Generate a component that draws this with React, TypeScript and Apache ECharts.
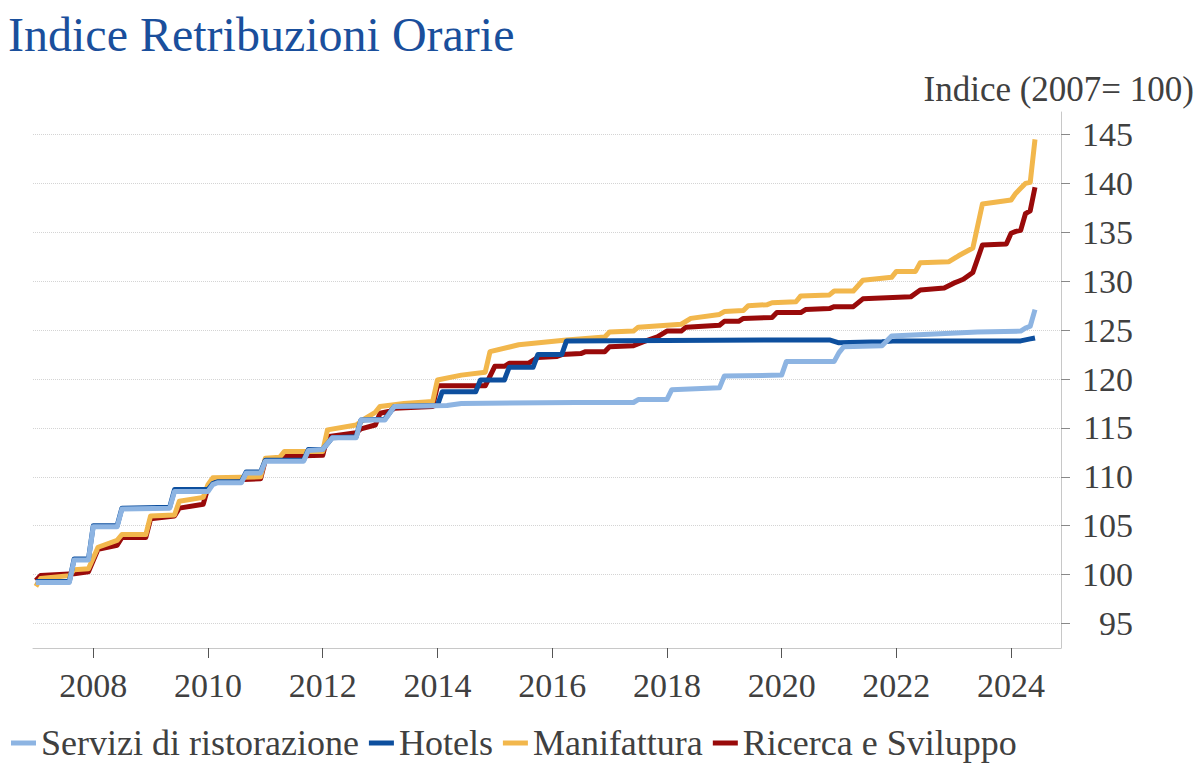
import React, { useEffect, useRef } from "react";
import * as echarts from "echarts";

const titleText = "Indice Retribuzioni Orarie";
const unitText = "Indice (2007= 100)";

const seriesNames = ["Servizi di ristorazione", "Hotels", "Manifattura", "Ricerca e Sviluppo"];
const seriesColors = ["#8db4e2", "#0d4f9e", "#f2b74c", "#990a0a"];

const xTickYears = [2008, 2010, 2012, 2014, 2016, 2018, 2020, 2022, 2024];
const yTickValues = [95, 100, 105, 110, 115, 120, 125, 130, 135, 140, 145];

// [month, index value]
const serviziData: [string, number][] = [
  ["2007-01", 99.2], ["2007-08", 99.2], ["2007-09", 101.5], ["2007-12", 101.5],
  ["2008-01", 104.9], ["2008-06", 104.9], ["2008-07", 106.7], ["2009-05", 106.8],
  ["2009-06", 108.5], ["2010-01", 108.5], ["2010-02", 109.2], ["2010-03", 109.4],
  ["2010-08", 109.4], ["2010-09", 110.4], ["2010-12", 110.4], ["2011-01", 111.6],
  ["2011-09", 111.6], ["2011-10", 112.7], ["2012-01", 112.8], ["2012-03", 114.0],
  ["2012-08", 114.0], ["2012-09", 115.8], ["2013-02", 115.8], ["2013-04", 117.2],
  ["2014-03", 117.3], ["2014-06", 117.5], ["2016-06", 117.6], ["2017-06", 117.6],
  ["2017-07", 117.9], ["2018-01", 117.9], ["2018-02", 118.9], ["2018-12", 119.1],
  ["2019-01", 120.3], ["2020-01", 120.4], ["2020-02", 121.8], ["2020-12", 121.8],
  ["2021-01", 122.7], ["2021-02", 123.3], ["2021-10", 123.4], ["2021-12", 124.4],
  ["2022-09", 124.6], ["2023-06", 124.8], ["2024-03", 124.9], ["2024-04", 125.2],
  ["2024-05", 125.4], ["2024-06", 127.1],
];

const hotelsData: [string, number][] = [
  ["2007-01", 99.3], ["2007-08", 99.3], ["2007-09", 101.6], ["2007-12", 101.6],
  ["2008-01", 105.0], ["2008-06", 105.0], ["2008-07", 106.8], ["2009-05", 106.9],
  ["2009-06", 108.7], ["2010-01", 108.7], ["2010-02", 109.3], ["2010-03", 109.5],
  ["2010-08", 109.5], ["2010-09", 110.5], ["2010-12", 110.5], ["2011-01", 111.7],
  ["2011-09", 111.7], ["2011-10", 112.8], ["2012-01", 112.8], ["2012-03", 114.0],
  ["2012-08", 114.1], ["2012-09", 115.8], ["2013-02", 115.9], ["2013-04", 117.2],
  ["2014-01", 117.3], ["2014-02", 118.7], ["2014-09", 118.7], ["2014-10", 119.9],
  ["2015-03", 119.9], ["2015-04", 121.2], ["2015-09", 121.2], ["2015-10", 122.5],
  ["2016-03", 122.5], ["2016-04", 123.9], ["2019-12", 124.0], ["2020-11", 124.0],
  ["2021-01", 123.7], ["2021-10", 123.8], ["2022-01", 123.9], ["2024-03", 123.9],
  ["2024-05", 124.1], ["2024-06", 124.2],
];

const manifatturaData: [string, number][] = [
  ["2007-01", 98.8], ["2007-02", 99.6], ["2007-08", 99.9], ["2007-09", 100.5],
  ["2007-12", 100.6], ["2008-02", 102.8], ["2008-06", 103.5], ["2008-07", 104.1],
  ["2008-12", 104.1], ["2009-01", 106.0], ["2009-06", 106.1], ["2009-07", 107.5],
  ["2009-12", 107.9], ["2010-01", 109.2], ["2010-02", 109.9], ["2010-12", 110.0],
  ["2011-01", 111.9], ["2011-04", 112.0], ["2011-05", 112.6], ["2012-01", 112.6],
  ["2012-02", 114.8], ["2012-08", 115.3], ["2012-10", 116.0], ["2012-12", 116.6],
  ["2013-01", 117.2], ["2013-06", 117.5], ["2013-12", 117.7], ["2014-01", 119.9],
  ["2014-06", 120.4], ["2014-11", 120.7], ["2014-12", 122.8], ["2015-06", 123.5],
  ["2016-04", 124.0], ["2016-12", 124.3], ["2017-01", 124.8], ["2017-06", 124.9],
  ["2017-07", 125.3], ["2018-04", 125.6], ["2018-06", 126.2], ["2018-12", 126.6],
  ["2019-01", 126.9], ["2019-05", 127.0], ["2019-06", 127.5], ["2019-10", 127.6],
  ["2019-11", 127.8], ["2020-04", 127.9], ["2020-05", 128.5], ["2020-11", 128.6],
  ["2020-12", 129.0], ["2021-04", 129.0], ["2021-06", 130.1], ["2021-12", 130.4],
  ["2022-01", 131.0], ["2022-05", 131.0], ["2022-06", 131.9], ["2022-12", 132.0],
  ["2023-02", 132.6], ["2023-05", 133.4], ["2023-07", 137.9], ["2024-01", 138.3],
  ["2024-02", 139.0], ["2024-03", 139.5], ["2024-04", 140.0], ["2024-05", 140.1],
  ["2024-06", 144.5],
];

const ricercaData: [string, number][] = [
  ["2007-01", 99.4], ["2007-02", 99.9], ["2007-09", 100.1], ["2007-12", 100.3],
  ["2008-02", 102.6], ["2008-06", 103.0], ["2008-07", 103.8], ["2008-12", 103.8],
  ["2009-01", 105.7], ["2009-06", 106.0], ["2009-07", 106.8], ["2009-12", 107.2],
  ["2010-01", 108.9], ["2010-02", 109.6], ["2010-12", 109.8], ["2011-01", 111.7],
  ["2011-04", 111.8], ["2011-05", 112.1], ["2012-01", 112.2], ["2012-02", 114.1],
  ["2012-08", 114.5], ["2012-09", 114.9], ["2012-12", 115.3], ["2013-01", 116.5],
  ["2013-03", 116.7], ["2013-04", 117.0], ["2013-12", 117.2], ["2014-01", 119.3],
  ["2014-11", 119.3], ["2015-01", 121.3], ["2015-03", 121.3], ["2015-04", 121.6],
  ["2015-08", 121.6], ["2015-10", 122.2], ["2016-02", 122.3], ["2016-03", 122.5],
  ["2016-07", 122.6], ["2016-08", 122.8], ["2016-12", 122.8], ["2017-01", 123.3],
  ["2017-06", 123.4], ["2017-08", 123.8], ["2017-11", 124.3], ["2018-01", 124.9],
  ["2018-04", 124.9], ["2018-05", 125.3], ["2018-12", 125.5], ["2019-01", 125.9],
  ["2019-04", 125.9], ["2019-05", 126.2], ["2019-11", 126.3], ["2019-12", 126.8],
  ["2020-05", 126.8], ["2020-06", 127.1], ["2020-11", 127.2], ["2020-12", 127.4],
  ["2021-04", 127.4], ["2021-06", 128.2], ["2022-04", 128.4], ["2022-06", 129.1],
  ["2022-11", 129.3], ["2023-01", 129.8], ["2023-02", 130.0], ["2023-03", 130.2],
  ["2023-05", 130.9], ["2023-07", 133.7], ["2023-12", 133.8], ["2024-01", 134.9],
  ["2024-02", 135.1], ["2024-03", 135.2], ["2024-04", 136.9], ["2024-05", 137.2],
  ["2024-06", 139.6],
];

const toYear = (m: string) => {
  const [y, mo] = m.split("-").map(Number);
  return y + (mo - 1) / 12;
};
const toPoints = (d: [string, number][]) => d.map(([m, v]) => [toYear(m), v]);

const FONT = "Liberation Serif";
const TEXT = "#404040";

export default function App() {
  const ref = useRef<HTMLDivElement>(null);
  useEffect(() => {
    if (!ref.current) return;
    const chart = echarts.init(ref.current, undefined, { renderer: "svg" });
    const allData = [serviziData, hotelsData, manifatturaData, ricercaData];
    const drawOrder = [3, 2, 1, 0];
    chart.setOption({
      animation: false,
      backgroundColor: "#ffffff",
      textStyle: { fontFamily: FONT },
      title: [
        {
          text: titleText,
          left: 3,
          top: 5,
          textStyle: { fontFamily: FONT, fontSize: 48, fontWeight: "normal", color: "#1a4f9c" },
        },
        {
          text: unitText,
          right: 0,
          top: 67,
          textStyle: { fontFamily: FONT, fontSize: 35, fontWeight: "normal", color: TEXT },
        },
      ],
      legend: {
        data: seriesNames,
        left: 11,
        top: 725,
        icon: "rect",
        itemWidth: 25,
        itemHeight: 5,
        itemGap: 10,
        padding: 0,
        textStyle: { fontFamily: FONT, fontSize: 36, lineHeight: 36, fontWeight: "normal", color: TEXT },
      },
      grid: { left: 33, right: 138, top: 112, bottom: 117 },
      xAxis: {
        type: "value",
        min: 2006.95,
        max: 2024.87,
        axisLine: { show: true, lineStyle: { color: "#c8c8c8", width: 1 } },
        axisTick: { show: true, customValues: xTickYears, length: 10, lineStyle: { color: "#555" } },
        axisLabel: {
          customValues: xTickYears,
          margin: 20,
          fontFamily: FONT,
          fontSize: 34,
          fontWeight: "normal",
          color: TEXT,
          formatter: (v: number) => String(Math.round(v)),
        },
        splitLine: { show: false },
      },
      yAxis: {
        type: "value",
        position: "right",
        min: 92.5,
        max: 147.3,
        axisLine: { show: true, lineStyle: { color: "#c8c8c8", width: 1 } },
        axisTick: { show: true, customValues: yTickValues, length: 9, lineStyle: { color: "#888" } },
        axisLabel: {
          customValues: yTickValues,
          align: "right",
          margin: 72,
          fontFamily: FONT,
          fontSize: 34,
          fontWeight: "normal",
          color: TEXT,
        },
        splitLine: { show: true, lineStyle: { type: "dotted", color: "#d4d4d4", width: 1 } },
      },
      series: drawOrder.map((i) => ({
        name: seriesNames[i],
        type: "line",
        data: toPoints(allData[i]),
        showSymbol: false,
        symbol: "none",
        color: seriesColors[i],
        lineStyle: { width: 5, color: seriesColors[i], join: "round" },
        emphasis: { disabled: true },
      })),
    });
    return () => chart.dispose();
  }, []);
  return (
    <div
      ref={ref}
      style={{ position: "fixed", left: 0, top: 0, width: 1199, height: 765, background: "#fff" }}
    />
  );
}
